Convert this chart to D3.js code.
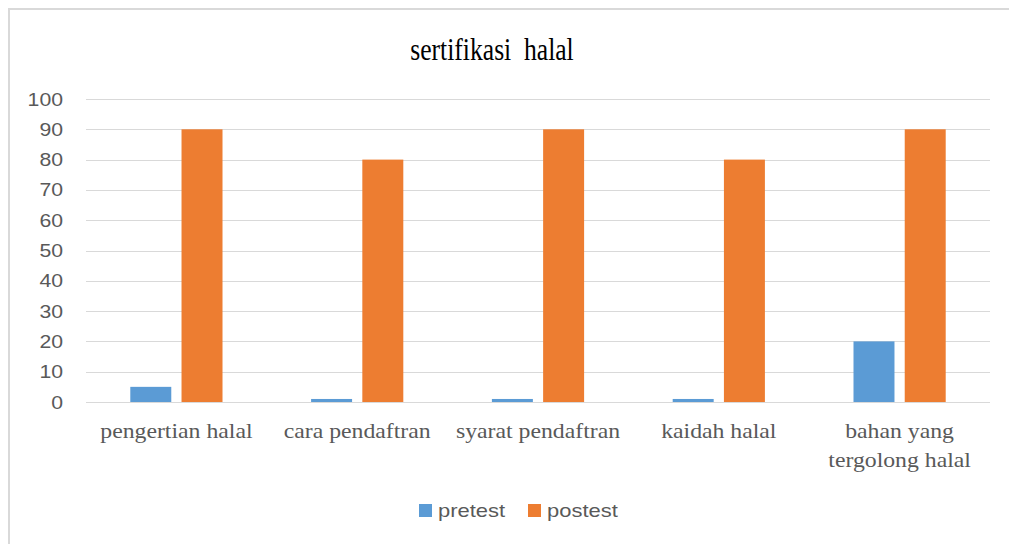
<!DOCTYPE html>
<html>
<head>
<meta charset="utf-8">
<script src="https://cdn.jsdelivr.net/npm/d3@7"></script>
<style>
  html, body { margin: 0; padding: 0; background: #fff; overflow: hidden; }
</style>
</head>
<body>
<svg id="chart" width="1009" height="544"></svg>
<script>
// data
var categories = [['pengertian halal'], ['cara pendaftran'], ['syarat pendaftran'], ['kaidah halal'], ['bahan yang', 'tergolong halal']];
var seriesNames = ['pretest', 'postest'];
var pretest = [5, 1, 1, 1, 20];
var postest = [90, 80, 90, 80, 90];
var yTicks = [0, 10, 20, 30, 40, 50, 60, 70, 80, 90, 100];

var colors = {pretest: '#5B9BD5', postest: '#ED7D31'};
var values = {pretest: pretest, postest: postest};

var sansFont = '"Liberation Sans", Arial, sans-serif',
    serifFont = '"Liberation Serif", "Times New Roman", serif';

var svg = d3.select('#chart');

// chart frame
svg.append('rect')
    .attr('x', 9).attr('y', 9)
    .attr('width', 1100).attr('height', 700)
    .attr('fill', 'none')
    .attr('stroke', '#d9d9d9')
    .attr('stroke-width', 2);

var plotLeft = 86, plotRight = 990, plotTop = 99, plotBottom = 402;

var x0 = d3.scaleBand()
    .domain(d3.range(categories.length))
    .range([plotLeft, plotRight]);
var bw = x0.bandwidth();
var x1 = d3.scaleBand()
    .domain(seriesNames)
    .range([bw * 0.245, bw * 0.755])
    .paddingInner(0.2);
var y = d3.scaleLinear().domain([0, 100]).range([plotBottom, plotTop]);

// gridlines
svg.append('g').selectAll('line').data(yTicks).join('line')
    .attr('x1', plotLeft).attr('x2', plotRight)
    .attr('y1', function(d) { return Math.round(y(d)) + 0.5; })
    .attr('y2', function(d) { return Math.round(y(d)) + 0.5; })
    .attr('stroke', '#d9d9d9')
    .attr('stroke-width', 1);

// y labels (source picture is stretched sideways, so text gets a scaleX)
svg.append('g').selectAll('g').data(yTicks).join('g')
    .attr('transform', function(d) { return 'translate(63,' + (y(d) + 6.5) + ') scale(1.18,1)'; })
    .append('text')
    .attr('text-anchor', 'end')
    .attr('fill', '#595959')
    .style('font-family', sansFont)
    .style('font-size', '18px')
    .text(function(d) { return d; });

// bars
var groups = svg.append('g').selectAll('g.group').data(d3.range(categories.length)).join('g')
    .attr('class', 'group')
    .attr('transform', function(i) { return 'translate(' + x0(i) + ',0)'; });

groups.selectAll('rect')
    .data(function(i) { return seriesNames.map(function(s) { return {series: s, value: values[s][i]}; }); })
    .join('rect')
    .attr('x', function(d) { return x1(d.series); })
    .attr('width', x1.bandwidth())
    .attr('y', function(d) { return y(d.value); })
    .attr('height', function(d) { return y(0) - y(d.value); })
    .attr('fill', function(d) { return colors[d.series]; });

// category labels
var labels = svg.append('g').selectAll('g').data(categories).join('g')
    .attr('transform', function(d, i) { return 'translate(' + (x0(i) + bw / 2) + ',438) scale(1.08,1)'; })
    .append('text')
    .attr('text-anchor', 'middle')
    .attr('fill', '#595959')
    .style('font-family', serifFont)
    .style('font-size', '22px');
labels.selectAll('tspan').data(function(d) { return d; }).join('tspan')
    .attr('x', 0)
    .attr('y', function(d, i) { return i * 29; })
    .text(function(d) { return d; });

// title
svg.append('g')
    .attr('transform', 'translate(492,60) scale(0.8,1)')
    .append('text')
    .attr('text-anchor', 'middle')
    .attr('fill', '#000')
    .style('font-family', serifFont)
    .style('font-size', '32px')
    .style('white-space', 'pre')
    .text('sertifikasi  halal');

// legend
var legendX = [419, 528];
var legend = svg.append('g').selectAll('g').data(seriesNames).join('g')
    .attr('transform', function(d, i) { return 'translate(' + legendX[i] + ',504)'; });
legend.append('rect')
    .attr('width', 13).attr('height', 13)
    .attr('fill', function(d) { return colors[d]; });
legend.append('g')
    .attr('transform', 'translate(19,13) scale(1.22,1)')
    .append('text')
    .attr('fill', '#595959')
    .style('font-family', sansFont)
    .style('font-size', '18px')
    .text(function(d) { return d; });
</script>
</body>
</html>
